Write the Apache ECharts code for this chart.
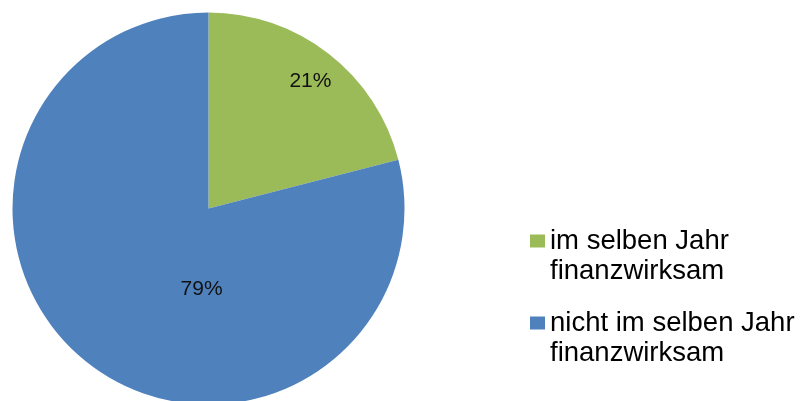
<!DOCTYPE html>
<html>
<head>
<meta charset="utf-8">
<script src="https://cdn.jsdelivr.net/npm/echarts@6/dist/echarts.min.js"></script>
<style>
  html, body { margin: 0; padding: 0; background: #fff; }
  #chart { width: 804px; height: 401px; }
</style>
</head>
<body>
<div id="chart"></div>
<script>
// Share of items by when they become cash-effective
const categories = ['im selben Jahr\nfinanzwirksam', 'nicht im selben Jahr\nfinanzwirksam'];
const shares = [21, 79];
const colors = ['#9BBB59', '#4F81BD'];
// Nudges of the percentage labels away from the default inside spot
const labelOffsets = [[40, -47], [55, 1]];

const chart = echarts.init(document.getElementById('chart'), null, { renderer: 'canvas' });

const FONT = '"Liberation Sans", Arial, sans-serif';
const LEGEND_LINE = 30;

function legendFor(i, top) {
  return {
    show: true,
    data: [categories[i]],
    orient: 'vertical',
    left: 530,
    top: top,
    padding: 0,
    icon: 'rect',
    itemWidth: 15,
    itemHeight: 13,
    selectedMode: false,
    // a blank leading line keeps the first text line level with the colour square
    formatter: name => '\n' + name,
    textStyle: {
      fontFamily: FONT,
      fontSize: 27.5,
      color: '#000',
      lineHeight: LEGEND_LINE
    }
  };
}

chart.setOption({
  animation: false,
  backgroundColor: '#fff',
  color: colors,
  legend: [legendFor(0, 196), legendFor(1, 278)],
  series: [{
    type: 'pie',
    center: [208.5, 208.5],
    radius: [0, 196],
    startAngle: 90,
    clockwise: true,
    avoidLabelOverlap: false,
    itemStyle: { borderWidth: 0 },
    emphasis: { disabled: true },
    labelLine: { show: false },
    label: {
      show: true,
      position: 'inside',
      formatter: '{c}%',
      fontFamily: FONT,
      fontSize: 21,
      color: '#111'
    },
    data: categories.map((name, i) => ({
      name: name,
      value: shares[i],
      label: { offset: labelOffsets[i] }
    }))
  }]
});
</script>
</body>
</html>
